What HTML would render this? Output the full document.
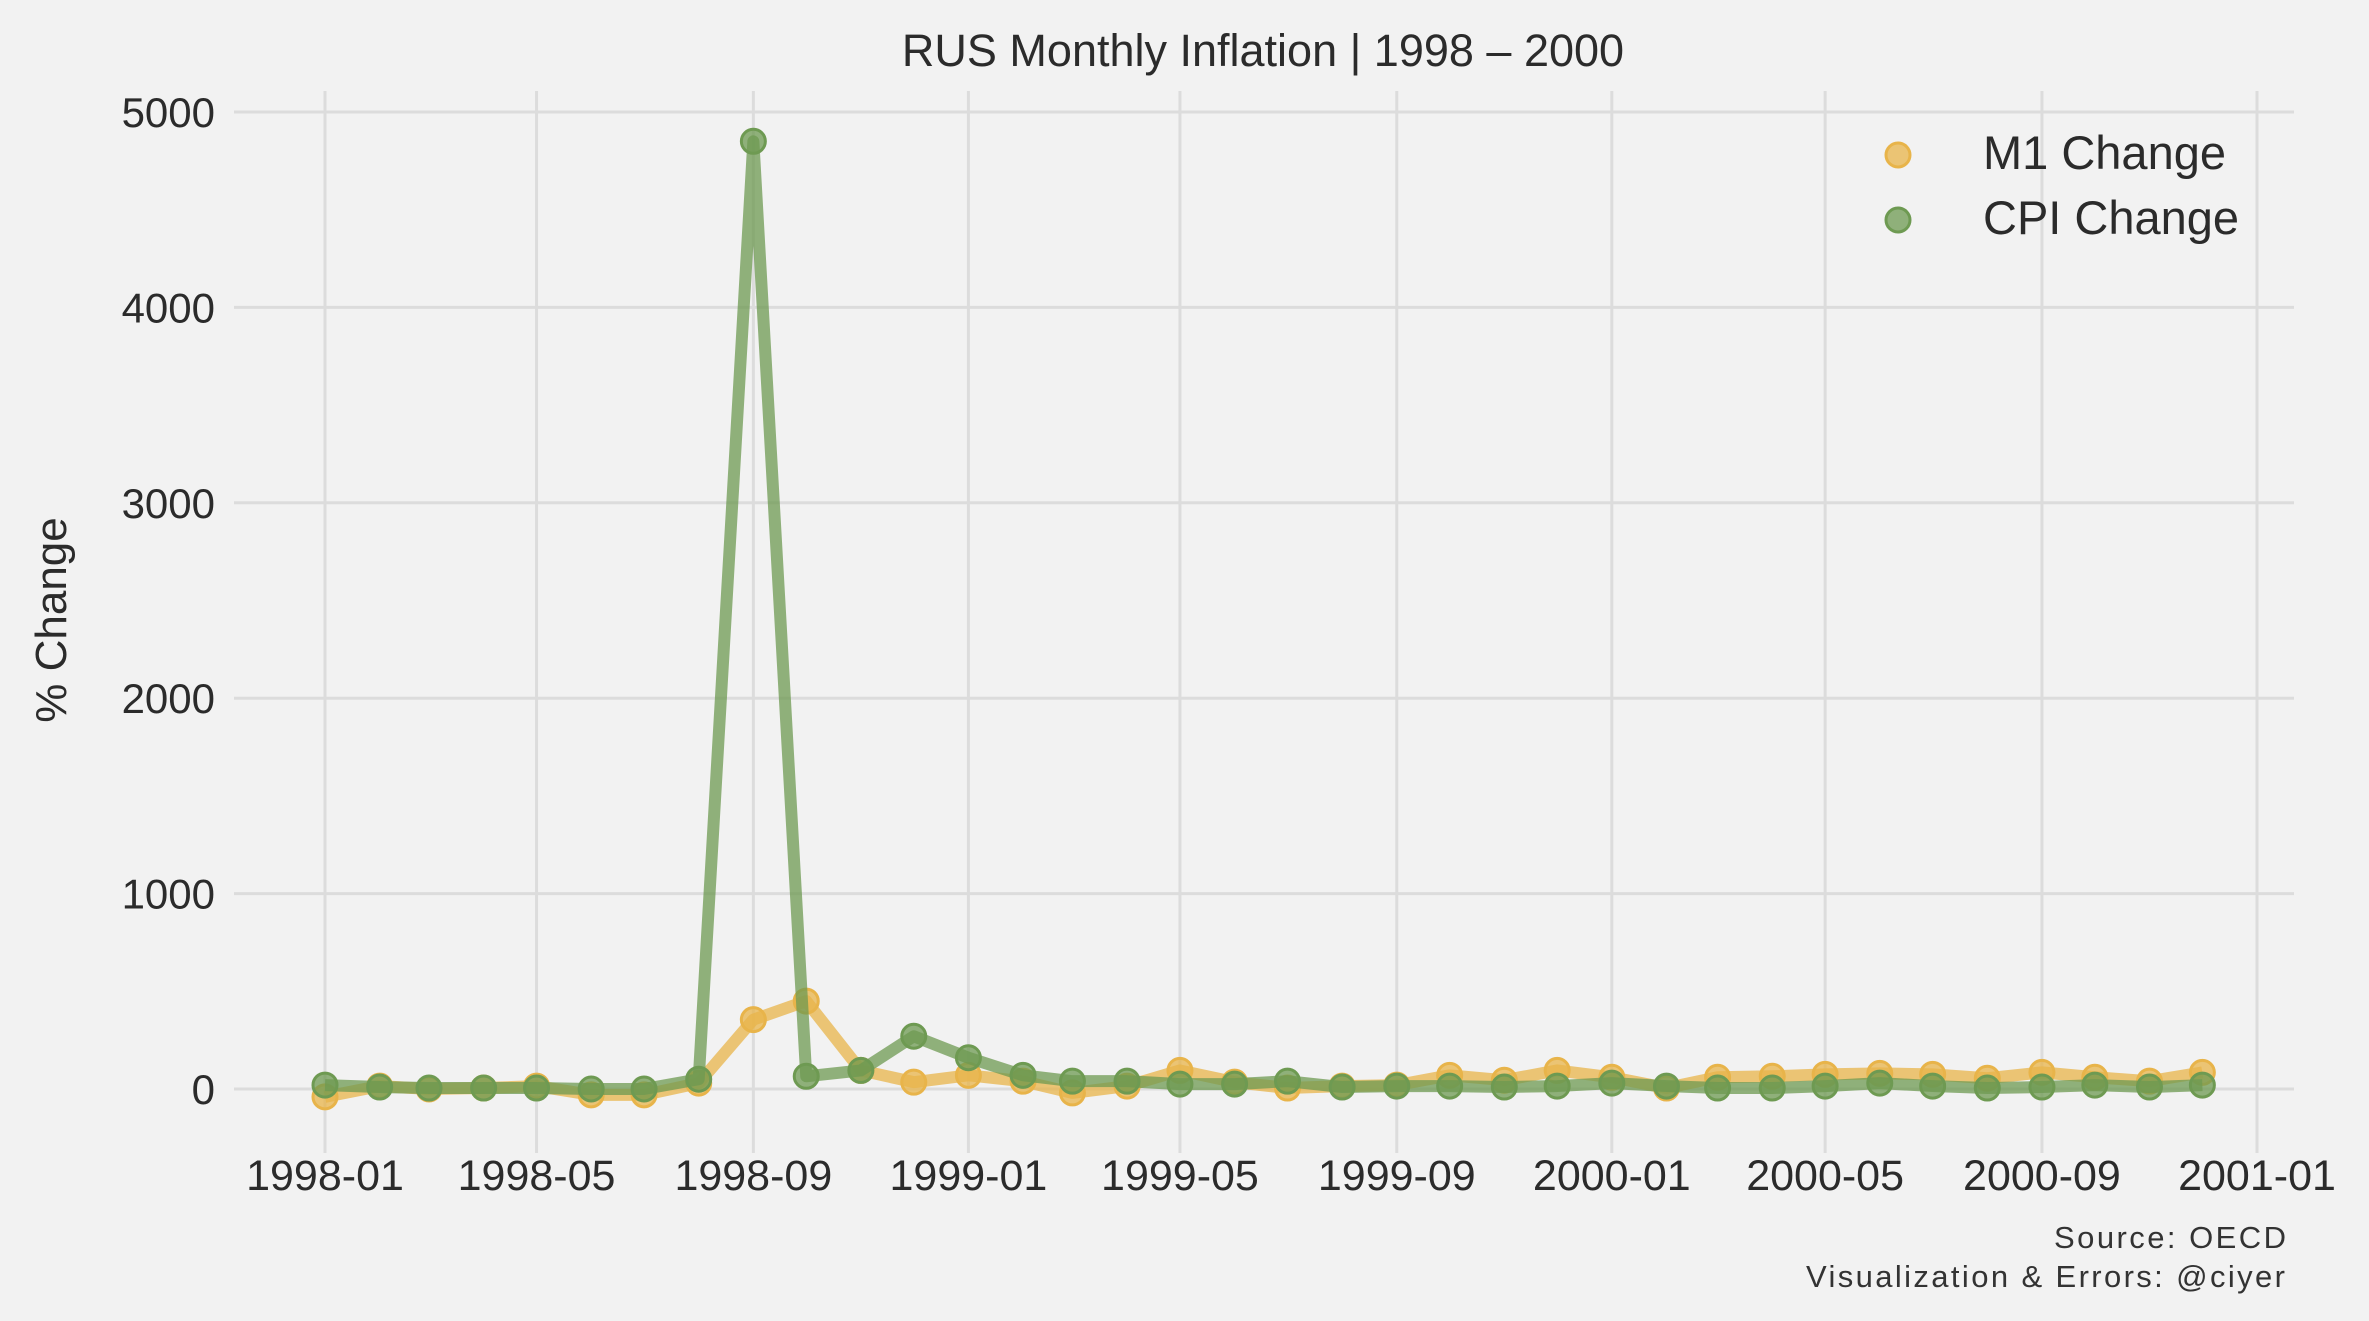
<!DOCTYPE html>
<html><head><meta charset="utf-8"><style>
html,body{margin:0;padding:0;background:#f2f2f2;}
svg{display:block;font-family:"Liberation Sans",sans-serif;}
</style></head><body>
<svg id="chart" width="2369" height="1321" viewBox="0 0 2369 1321" xmlns="http://www.w3.org/2000/svg">
<rect x="0" y="0" width="2369" height="1321" fill="#f2f2f2"/>
<g id="grid"></g>
<g id="xticks"></g>
<g id="yticks"></g>
<g id="series"></g>
<text x="1263" y="66" text-anchor="middle" font-size="45" fill="#2b2b2b">RUS Monthly Inflation | 1998 – 2000</text>
<text transform="translate(66,620) rotate(-90)" text-anchor="middle" font-size="44" fill="#2b2b2b">% Change</text>
<g>
<circle cx="1898" cy="155" r="12" fill="#e8b44a" fill-opacity="0.75" stroke="#e8b44a" stroke-width="3"/>
<text x="1983" y="169" font-size="47" fill="#2b2b2b">M1 Change</text>
<circle cx="1898" cy="220" r="12" fill="#6e9a52" fill-opacity="0.75" stroke="#6e9a52" stroke-width="3"/>
<text x="1983" y="234" font-size="47" fill="#2b2b2b">CPI Change</text>
</g>
<text x="2054" y="1248" font-size="31" textLength="232" fill="#333">Source: OECD</text>
<text x="1806" y="1287" font-size="31" textLength="479" fill="#333">Visualization &amp; Errors: @ciyer</text>
</svg>
<script>
const months = ["1998-01","1998-02","1998-03","1998-04","1998-05","1998-06","1998-07","1998-08","1998-09","1998-10","1998-11","1998-12",
"1999-01","1999-02","1999-03","1999-04","1999-05","1999-06","1999-07","1999-08","1999-09","1999-10","1999-11","1999-12",
"2000-01","2000-02","2000-03","2000-04","2000-05","2000-06","2000-07","2000-08","2000-09","2000-10","2000-11","2000-12"];
const m1Change = [-40,15,0,5,15,-30,-30,30,355,450,95,35,70,40,-20,15,95,35,5,15,20,70,45,95,60,5,60,65,75,80,75,55,85,60,40,85];
const cpiChange = [20,10,5,5,5,0,0,50,4850,65,95,270,160,70,40,40,25,25,40,10,15,15,10,15,30,15,5,5,15,30,15,5,10,20,10,20];
const xTickLabels = ["1998-01","1998-05","1998-09","1999-01","1999-05","1999-09","2000-01","2000-05","2000-09","2001-01"];
const yTickValues = [0,1000,2000,3000,4000,5000];

const NS="http://www.w3.org/2000/svg";
const t0=Date.UTC(1998,0,1), t1=Date.UTC(2001,0,1);
function xScale(s){const p=s.split("-");const t=Date.UTC(+p[0],+p[1]-1,1);return 325+(t-t0)/(t1-t0)*(2257-325);}
function yScale(v){return 1089-v/5000*(1089-112);}
function mk(tag,attrs,parent){const e=document.createElementNS(NS,tag);for(const k in attrs)e.setAttribute(k,attrs[k]);parent.appendChild(e);return e;}
const grid=document.getElementById("grid"),xt=document.getElementById("xticks"),yt=document.getElementById("yticks"),ser=document.getElementById("series");
yTickValues.forEach(v=>{
  const y=yScale(v);
  const l=mk("line",{x1:234,x2:2294,y1:y,y2:y,stroke:"#dcdcdc","stroke-width":3},grid);
  
  
  const t=mk("text",{x:215,y:y+15,"text-anchor":"end","font-size":42,fill:"#2b2b2b"},yt);
  t.textContent=v;
  
  
});
xTickLabels.forEach(s=>{
  const x=xScale(s);
  const l=mk("line",{x1:x,x2:x,y1:91,y2:1153,stroke:"#dcdcdc","stroke-width":3},grid);
  
  
  const t=mk("text",{x:x,y:1190,"text-anchor":"middle","font-size":43,fill:"#2b2b2b"},xt);
  t.textContent=s;
  
  
});
function drawSeries(vals,color,name){
  const g=mk("g",{},ser);
  
  
  const pts=vals.map((v,i)=>xScale(months[i])+","+yScale(v)).join(" ");
  const pl=mk("polyline",{points:pts,fill:"none",stroke:color,"stroke-width":12,"stroke-opacity":0.75,"stroke-linejoin":"round"},g);
  
  
  vals.forEach((v,i)=>{
    const c=mk("circle",{cx:xScale(months[i]),cy:yScale(v),r:12,fill:color,"fill-opacity":0.75,stroke:color,"stroke-width":3},g);
    
    
  });
}
drawSeries(m1Change,"#e8b44a","m1");
drawSeries(cpiChange,"#6e9a52","cpi");
</script>
</body></html>
